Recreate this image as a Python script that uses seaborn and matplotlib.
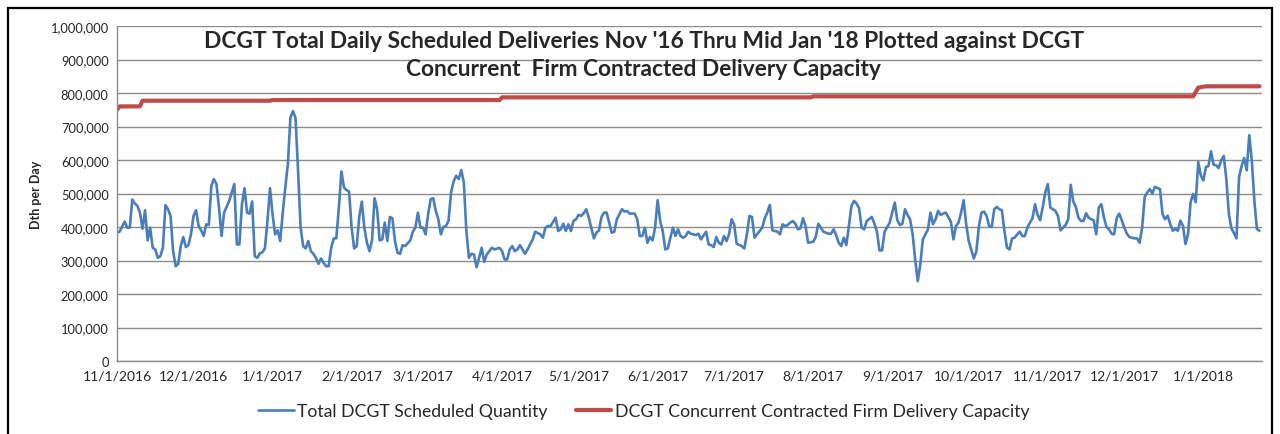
import pandas as pd
import seaborn as sns
import matplotlib.pyplot as plt
from matplotlib.ticker import FuncFormatter, FixedLocator
from matplotlib.patches import Rectangle
import matplotlib.dates as mdates

# Data: day offset from 11/1/2016 and Dth (thousands)
start_date = '2016-11-01'

sched_day = [
    0, 1, 3, 4, 5, 6, 7, 8, 9, 10, 11, 12, 13, 14, 15, 16, 17, 18, 19, 20,
    21, 22, 23, 24, 25, 26, 27, 28, 29, 30, 31, 32, 33, 34, 35, 36, 37, 38, 39, 40,
    41, 42, 44, 46, 47, 48, 49, 50, 51, 52, 53, 54, 55, 56, 57, 58, 59, 60, 61, 62,
    63, 64, 65, 66, 67, 68, 69, 70, 71, 72, 73, 74, 75, 76, 77, 78, 79, 80, 81, 82,
    83, 84, 85, 86, 87, 88, 89, 90, 91, 92, 93, 94, 95, 96, 97, 98, 99, 100, 101, 102,
    103, 104, 105, 106, 107, 108, 109, 110, 111, 112, 113, 115, 116, 117, 118, 119, 120, 121, 122, 123,
    124, 125, 126, 127, 128, 129, 130, 131, 132, 133, 134, 135, 136, 137, 138, 139, 140, 141, 142, 143,
    144, 145, 147, 148, 150, 151, 152, 153, 154, 155, 156, 157, 158, 160, 161, 163, 164,
    166, 167, 168, 169, 170, 171, 172, 173, 174, 175, 176, 177, 178, 179, 180, 181, 182, 183, 184, 185,
    187, 188, 189, 190, 191, 192, 194, 195, 196, 198, 199, 200, 201, 203, 204, 205,
    206, 207, 208, 209, 210, 211, 212, 213, 214, 215, 216, 217, 218, 219, 220, 221, 222, 223, 224, 225,
    227, 228, 229, 231, 232, 233, 234, 235, 236, 237, 238, 239, 240, 241, 242, 243, 245, 246,
    247, 248, 249, 250, 252, 253, 254, 255, 256, 257, 259, 260, 261, 262, 263, 264, 265, 266, 267, 268,
    269, 270, 271, 273, 274, 275, 276, 277, 279, 280, 281, 282, 283, 284, 285, 286, 287, 288,
    289, 290, 291, 292, 293, 294, 296, 297, 298, 299, 300, 301, 303, 304, 305, 306, 307, 308, 309, 310,
    311, 312, 313, 314, 315, 316, 318, 319, 320, 321, 322, 323, 324, 325, 327, 328, 329,
    330, 331, 332, 333, 334, 336, 337, 338, 339, 340, 341, 342, 343, 344, 345, 346, 347, 348, 349, 350,
    351, 352, 353, 354, 355, 356, 357, 358, 359, 360, 361, 362, 363, 364, 365, 366, 368, 369, 370,
    372, 373, 374, 375, 376, 377, 378, 379, 380, 381, 382, 383, 384, 385, 386, 387, 388, 389, 390, 391,
    392, 393, 394, 395, 396, 397, 399, 400, 401, 402, 403, 404, 405, 406, 407, 409, 410, 411,
    412, 413, 414, 415, 416, 417, 418, 419, 420, 421, 422, 423, 424, 425, 426, 427, 428, 429, 430, 431,
    432, 433, 434, 435, 436, 437, 438, 439, 440, 441, 442, 443, 444, 445, 446, 447, 448,
]

sched_kdth = [
    383, 386, 416, 398, 398, 482, 470, 463, 443, 395, 450, 360, 398, 338, 333, 308, 313, 338, 465, 453,
    433, 328, 283, 290, 343, 370, 340, 346, 378, 433, 450, 403, 390, 373, 408, 406, 523, 543, 528, 458,
    373, 443, 478, 528, 348, 348, 468, 516, 443, 440, 476, 313, 308, 321, 325, 336, 418, 516, 438, 378,
    390, 358, 443, 518, 588, 726, 746, 726, 568, 398, 343, 336, 358, 328, 320, 308, 290, 306, 293, 283,
    283, 338, 366, 366, 458, 566, 518, 510, 506, 398, 336, 343, 430, 476, 398, 353, 328, 360, 486, 453,
    360, 363, 413, 358, 430, 426, 358, 323, 320, 346, 343, 360, 386, 398, 443, 398, 398, 378, 438, 483,
    486, 448, 423, 378, 400, 403, 418, 503, 536, 553, 543, 570, 533, 388, 308, 320, 318, 280, 308, 338,
    296, 318, 338, 333, 338, 328, 303, 303, 333, 343, 328, 333, 346, 320, 333, 363, 386,
    378, 368, 398, 403, 403, 415, 428, 388, 393, 410, 388, 408, 388, 418, 423, 436, 433, 441, 453, 428,
    366, 383, 390, 430, 443, 443, 383, 386, 423, 453, 446, 448, 440, 440, 423, 373,
    373, 398, 353, 370, 360, 398, 480, 418, 388, 333, 336, 368, 398, 373, 393, 373, 368, 373, 386, 380,
    376, 380, 363, 386, 348, 346, 340, 370, 353, 348, 373, 358, 378, 423, 408, 350, 343, 336,
    378, 433, 430, 368, 388, 398, 426, 443, 466, 390, 386, 378, 408, 403, 406, 413, 418, 410, 393, 396,
    426, 403, 353, 356, 370, 410, 398, 386, 380, 380, 393, 376, 353, 343, 368, 346, 403, 463,
    478, 470, 456, 398, 393, 418, 430, 410, 386, 330, 330, 386, 413, 443, 473, 420, 406, 410, 453, 436,
    423, 378, 303, 238, 288, 363, 393, 443, 408, 423, 448, 436, 440, 443, 416, 363, 403,
    413, 443, 480, 408, 358, 306, 328, 403, 443, 446, 433, 403, 400, 453, 460, 453, 450, 388, 338, 333,
    366, 368, 378, 386, 373, 373, 398, 413, 426, 468, 436, 420, 458, 503, 528, 458, 448, 433, 390,
    406, 423, 526, 476, 460, 428, 418, 418, 441, 428, 423, 420, 378, 458, 468, 430, 400, 393, 380, 378,
    426, 440, 420, 398, 380, 370, 366, 366, 353, 398, 490, 503, 513, 500, 520, 513, 438, 423,
    434, 409, 389, 394, 389, 419, 404, 349, 379, 474, 499, 474, 594, 554, 539, 579, 582, 626, 586, 584,
    576, 599, 612, 544, 439, 396, 382, 366, 549, 582, 606, 569, 674, 599, 479, 394, 389,
]

cap_day = [0, 1, 9, 10, 60, 61, 150, 151, 272, 273, 422, 424, 427, 448]
cap_kdth = [750, 760, 760, 777, 777, 779, 779, 787, 787, 790, 790, 816, 820, 820]

title_lines = ["DCGT Total Daily Scheduled Deliveries Nov '16 Thru Mid Jan '18 Plotted against DCGT",
               "Concurrent  Firm Contracted Delivery Capacity"]
sched_label = 'Total DCGT Scheduled Quantity'
cap_label = 'DCGT Concurrent Contracted Firm Delivery Capacity'


def make_frame(days, vals):
    return pd.DataFrame({
        'Date': pd.Timestamp(start_date) + pd.to_timedelta(days, unit='D'),
        'Dth': [v * 1000 for v in vals],
    })


sched = make_frame(sched_day, sched_kdth)
cap = make_frame(cap_day, cap_kdth)

sns.set_style('white')
plt.rcParams['font.family'] = ['Lato', 'DejaVu Sans']

fig = plt.figure(figsize=(12.8, 4.35), dpi=100)
ax = fig.add_axes([117 / 1280, 1 - 362 / 435, (1262 - 117) / 1280, 335 / 435])

sns.lineplot(data=sched, x='Date', y='Dth', color='#4A7EBB', lw=1.9, ax=ax, label=sched_label)
sns.lineplot(data=cap, x='Date', y='Dth', color='#BE4B48', lw=3.0, ax=ax, label=cap_label)

# axes, grid, ticks
ax.set_ylim(0, 1000000)
ax.set_xlim(pd.Timestamp(start_date), pd.Timestamp(start_date) + pd.Timedelta(days=449))
ax.set_yticks(range(0, 1000001, 100000))
ax.yaxis.set_major_formatter(FuncFormatter(lambda v, p: f'{int(v):,}'))
ax.yaxis.grid(True, color='#8C8C8C', lw=1)
ax.set_axisbelow(True)

months = pd.date_range('2016-11-01', '2018-01-01', freq='MS')
ax.xaxis.set_major_locator(FixedLocator(mdates.date2num(months)))
ax.set_xticklabels([f'{d.month}/{d.day}/{d.year}' for d in months])

for side in ['top', 'right']:
    ax.spines[side].set_visible(False)
for side in ['left', 'bottom']:
    ax.spines[side].set_color('#8C8C8C')
    ax.spines[side].set_linewidth(1)
ax.tick_params(axis='both', length=4, color='#8C8C8C', pad=2)
ax.tick_params(axis='y', labelsize=9.3)
ax.tick_params(axis='x', labelsize=10)

ax.set_xlabel('')
ax.set_ylabel('Dth per Day', fontsize=9, fontweight='bold', labelpad=6)

# title inside the plot area
fig.text(0.503, 1 - 42 / 435, title_lines[0], ha='center', va='center', fontsize=16.4, fontweight='bold')
fig.text(0.503, 1 - 70 / 435, title_lines[1], ha='center', va='center', fontsize=16.4, fontweight='bold')

# legend below
handles, labels = ax.get_legend_handles_labels()
ax.get_legend().remove()
fig.legend(handles, labels, loc='center', bbox_to_anchor=(0.503, 1 - 412 / 435), ncol=2,
           frameon=False, fontsize=12.7, handlelength=2.0, handletextpad=0.2, columnspacing=1.6)

# outer chart border
fig.patches.append(Rectangle((0.006, -0.05), 0.988, 1.029, transform=fig.transFigure,
                             fill=False, edgecolor='black', lw=1.6))

fig.savefig('out.png', dpi=100)
